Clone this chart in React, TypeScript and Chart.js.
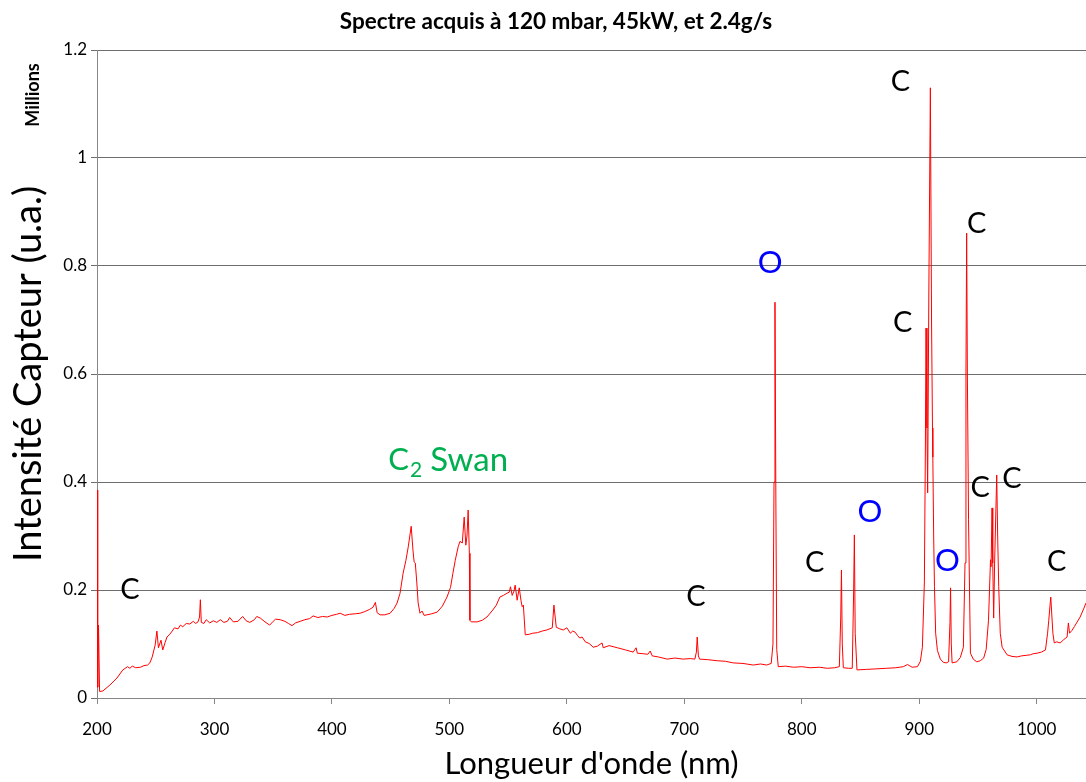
import React, { useEffect, useRef } from 'react';
import { Chart, registerables } from 'chart.js';

Chart.register(...registerables);

// Wavelength (nm) and sensor intensity (millions, a.u.)
const wavelengths = [
  200.0, 200.6, 201.3, 202.2, 205, 211, 217, 222, 226, 228, 230, 233, 237, 240, 243, 245, 247, 249.5, 251, 252.3,
  254.5, 256, 258, 259.6, 262, 264, 266, 269, 271, 273, 276, 279, 282, 284, 286, 287.3, 288, 288.8, 291, 293,
  296, 299, 302, 305, 308, 311, 313, 316, 320, 324, 327, 330, 334, 336, 339, 343, 347, 350, 352, 356,
  360, 363, 366, 369, 373, 377, 381, 384, 388, 392, 396, 400, 404, 407, 411, 415, 420, 424, 428, 432,
  435, 437, 438.5, 441, 445, 449.6, 453, 455.5, 458, 460.6, 463, 465, 467.5, 469, 470, 471, 472.3, 473.4, 475, 476.8,
  478.5, 481, 485, 489.6, 494, 498, 501, 503, 505, 507.5, 509, 511, 512.6, 514, 515, 516, 517, 517.5, 518.6, 523.7,
  528, 532, 537, 540, 543, 546, 549, 551, 552, 553.5, 555, 556, 557.7, 559.5, 561, 562, 563, 564.6, 568, 571,
  575, 579, 583, 587.6, 589, 591, 594, 597, 600, 603, 605, 607, 609, 611, 613, 615.7, 619, 622.5, 626, 630,
  631, 636, 643, 650, 656.5, 659, 660, 665, 669, 671, 672.7, 678, 685.5, 692, 699, 705, 709, 710.3, 711, 712,
  713, 720, 728, 735, 741.7, 750, 758.8, 765, 770, 774, 775.5, 776.4, 777.2, 778, 778.7, 780, 786, 793, 800, 807,
  815, 821.8, 828, 832, 833.2, 833.8, 834.5, 835.4, 840, 843, 844.2, 844.8, 845.5, 847, 855, 864, 872, 880, 886.5, 890,
  894, 898.5, 901, 902.7, 904.4, 905.2, 905.8, 906.6, 907.2, 908.2, 909.5, 910.5, 911.3, 911.6, 912.3, 913, 914, 915.5, 918, 920.6,
  923, 925, 926.2, 926.7, 927.3, 928, 932, 935, 937.6, 939, 939.8, 940.4, 941, 942, 943.6, 946, 949, 952, 954.9, 957,
  959, 960.7, 961.2, 962, 962.6, 963.4, 964.2, 966, 966.8, 967.7, 969, 970.6, 974.8, 979, 983.4, 987, 991, 994.7, 997, 1000.4,
  1004, 1007.5, 1009.3, 1010.3, 1012, 1013, 1013.8, 1015, 1017, 1020, 1023, 1025.9, 1027, 1028, 1030, 1032, 1034, 1037, 1040, 1042,
];

const intensities = [
  0.385, 0.02, 0.135, 0.012, 0.013, 0.024, 0.037, 0.052, 0.058, 0.055, 0.059, 0.056, 0.057, 0.06, 0.061, 0.065, 0.076, 0.098, 0.124, 0.093,
  0.107, 0.089, 0.103, 0.113, 0.118, 0.124, 0.13, 0.128, 0.135, 0.132, 0.138, 0.137, 0.142, 0.138, 0.141, 0.15, 0.182, 0.14, 0.138, 0.145,
  0.139, 0.143, 0.14, 0.145, 0.14, 0.142, 0.149, 0.141, 0.142, 0.151, 0.143, 0.14, 0.145, 0.151, 0.148, 0.141, 0.135, 0.142, 0.146, 0.145,
  0.142, 0.138, 0.134, 0.139, 0.142, 0.145, 0.147, 0.152, 0.149, 0.151, 0.15, 0.153, 0.155, 0.157, 0.153, 0.155, 0.156, 0.157, 0.16, 0.164,
  0.168, 0.177, 0.158, 0.154, 0.154, 0.157, 0.166, 0.176, 0.194, 0.231, 0.255, 0.28, 0.318, 0.274, 0.252, 0.25, 0.213, 0.176, 0.157, 0.161,
  0.153, 0.154, 0.156, 0.159, 0.17, 0.187, 0.205, 0.231, 0.255, 0.28, 0.29, 0.287, 0.335, 0.283, 0.3, 0.348, 0.268, 0.144, 0.141, 0.141,
  0.144, 0.15, 0.163, 0.172, 0.187, 0.19, 0.194, 0.196, 0.206, 0.19, 0.198, 0.209, 0.181, 0.204, 0.18, 0.169, 0.172, 0.117, 0.118, 0.12,
  0.121, 0.124, 0.126, 0.13, 0.172, 0.131, 0.128, 0.126, 0.13, 0.12, 0.124, 0.122, 0.116, 0.111, 0.113, 0.104, 0.101, 0.094, 0.096, 0.102,
  0.093, 0.097, 0.093, 0.089, 0.085, 0.093, 0.083, 0.082, 0.081, 0.087, 0.078, 0.076, 0.072, 0.074, 0.072, 0.073, 0.072, 0.085, 0.113, 0.078,
  0.072, 0.071, 0.069, 0.068, 0.065, 0.064, 0.061, 0.063, 0.061, 0.064, 0.1, 0.4, 0.733, 0.35, 0.09, 0.058, 0.059, 0.057, 0.058, 0.056,
  0.057, 0.055, 0.056, 0.058, 0.15, 0.237, 0.1, 0.056, 0.055, 0.055, 0.2, 0.302, 0.12, 0.052, 0.053, 0.054, 0.055, 0.056, 0.058, 0.062,
  0.057, 0.058, 0.068, 0.094, 0.215, 0.45, 0.685, 0.5, 0.38, 0.75, 1.13, 0.7, 0.5, 0.446, 0.3, 0.206, 0.12, 0.088, 0.072, 0.066,
  0.065, 0.067, 0.14, 0.204, 0.1, 0.065, 0.067, 0.075, 0.094, 0.25, 0.6, 0.861, 0.6, 0.33, 0.083, 0.072, 0.067, 0.069, 0.074, 0.09,
  0.144, 0.256, 0.243, 0.352, 0.25, 0.148, 0.25, 0.413, 0.3, 0.206, 0.12, 0.094, 0.08, 0.077, 0.076, 0.078, 0.079, 0.08, 0.082, 0.083,
  0.085, 0.089, 0.12, 0.144, 0.187, 0.15, 0.12, 0.102, 0.104, 0.102, 0.108, 0.113, 0.139, 0.12, 0.125, 0.132, 0.139, 0.15, 0.165, 0.176,
];

const xTicks = [200, 300, 400, 500, 600, 700, 800, 900, 1000];
const xTickLabels = ['200', '300', '400', '500', '600', '700', '800', '900', '1000'];
const yTicks = [0, 0.2, 0.4, 0.6, 0.8, 1, 1.2];
const yTickLabels = ['0', '0.2', '0.4', '0.6', '0.8', '1', '1.2'];

const chartTitle = 'Spectre acquis à 120 mbar, 45kW, et 2.4g/s';
const xTitle = "Longueur d'onde (nm)";
const yTitle = 'Intensité Capteur (u.a.)';
const yUnit = 'Millions';

// Line identification labels (element, anchor wavelength, anchor intensity)
const peakLabelText = ['C', 'C', 'O', 'C', 'O', 'C', 'C', 'C', 'O', 'C', 'C', 'C'];
const peakLabelNm = [228, 710, 773, 811, 858, 884, 886, 949, 924, 952, 979, 1017];
const peakLabelVal = [0.2, 0.187, 0.806, 0.25, 0.344, 1.141, 0.696, 0.878, 0.254, 0.389, 0.406, 0.252];
const swanLabelNm = 448;
const swanLabelVal = 0.441;

const FONT = 'Lato, "Open Sans", sans-serif';

const annotationsPlugin = {
  id: 'textAnnotations',
  afterDraw(chart: any) {
    const { ctx, scales } = chart;
    const xs = scales.x;
    const ys = scales.y;
    ctx.save();
    // Title
    ctx.fillStyle = '#000';
    ctx.font = `bold 22.5px ${FONT}`;
    ctx.textAlign = 'center';
    ctx.textBaseline = 'middle';
    ctx.fillText(chartTitle, 556, 22);
    // Millions
    ctx.save();
    ctx.translate(33, 95);
    ctx.rotate(-Math.PI / 2);
    ctx.font = `bold 18px ${FONT}`;
    ctx.fillText(yUnit, 0, 0);
    ctx.restore();
    // Peak labels
    peakLabelText.forEach((t, i) => {
      ctx.fillStyle = t === 'O' ? '#0000ff' : '#000000';
      ctx.font = t === 'O' ? `31px ${FONT}` : `29px ${FONT}`;
      ctx.fillText(t, xs.getPixelForValue(peakLabelNm[i]), ys.getPixelForValue(peakLabelVal[i]));
    });
    // C2 Swan
    const sx = xs.getPixelForValue(swanLabelNm);
    const sy = ys.getPixelForValue(swanLabelVal);
    ctx.fillStyle = '#00b050';
    ctx.textAlign = 'left';
    ctx.font = `31px ${FONT}`;
    ctx.fillText('C', sx, sy);
    const cw = ctx.measureText('C').width;
    ctx.font = `21px ${FONT}`;
    ctx.fillText('2', sx + cw + 1, sy + 10);
    const tw = ctx.measureText('2').width;
    ctx.font = `33px ${FONT}`;
    ctx.fillText('Swan', sx + cw + tw + 9, sy);
    ctx.restore();
  },
};

export default function App() {
  const ref = useRef<HTMLCanvasElement | null>(null);
  useEffect(() => {
    if (!ref.current) return;
    const points = wavelengths.map((w, i) => ({ x: w, y: intensities[i] }));
    const chart = new Chart(ref.current, {
      type: 'line',
      data: {
        datasets: [
          {
            data: points,
            borderColor: '#ff0000',
            borderWidth: 1,
            pointRadius: 0,
            tension: 0,
            fill: false,
          },
        ],
      },
      options: {
        animation: false,
        responsive: false,
        maintainAspectRatio: false,
        layout: { padding: { top: 50, left: 0, right: 0, bottom: 0 } },
        plugins: { legend: { display: false }, tooltip: { enabled: false }, title: { display: false } },
        scales: {
          x: {
            type: 'linear',
            min: 200,
            max: 1042,
            afterBuildTicks: (s: any) => {
              s.ticks = xTicks.map((v) => ({ value: v }));
            },
            afterFit: (s: any) => {
              s.height = 84;
            },
            grid: {
              drawOnChartArea: false,
              drawTicks: true,
              tickLength: 6,
              color: '#868686',
            },
            border: { color: '#868686', width: 1 },
            ticks: {
              color: '#000',
              font: { family: FONT, size: 17 },
              padding: 15,
              maxRotation: 0,
              autoSkip: false,
              callback: (_v: any, i: number) => xTickLabels[i],
            },
            title: {
              display: true,
              text: xTitle,
              color: '#000',
              font: { family: FONT, size: 31 },
              padding: { top: 0, bottom: -1 },
            },
          },
          y: {
            type: 'linear',
            min: 0,
            max: 1.2,
            afterBuildTicks: (s: any) => {
              s.ticks = yTicks.map((v) => ({ value: v }));
            },
            afterFit: (s: any) => {
              s.width = 97;
            },
            grid: {
              drawOnChartArea: true,
              drawTicks: true,
              tickLength: 6,
              color: '#6e6e6e',
            },
            border: { color: '#868686', width: 1 },
            ticks: {
              color: '#000',
              font: { family: FONT, size: 17 },
              padding: 4,
              autoSkip: false,
              callback: (_v: any, i: number) => yTickLabels[i],
            },
            title: {
              display: true,
              text: yTitle,
              color: '#000',
              font: { family: FONT, size: 38 },
              padding: { top: 6, bottom: 0 },
            },
          },
        },
      },
      plugins: [annotationsPlugin],
    });
    return () => chart.destroy();
  }, []);
  return (
    <div style={{ position: 'absolute', left: 0, top: 0, width: 1086, height: 782, background: '#fff' }}>
      <canvas ref={ref} width={1086} height={782} style={{ width: 1086, height: 782, display: 'block' }} />
    </div>
  );
}
